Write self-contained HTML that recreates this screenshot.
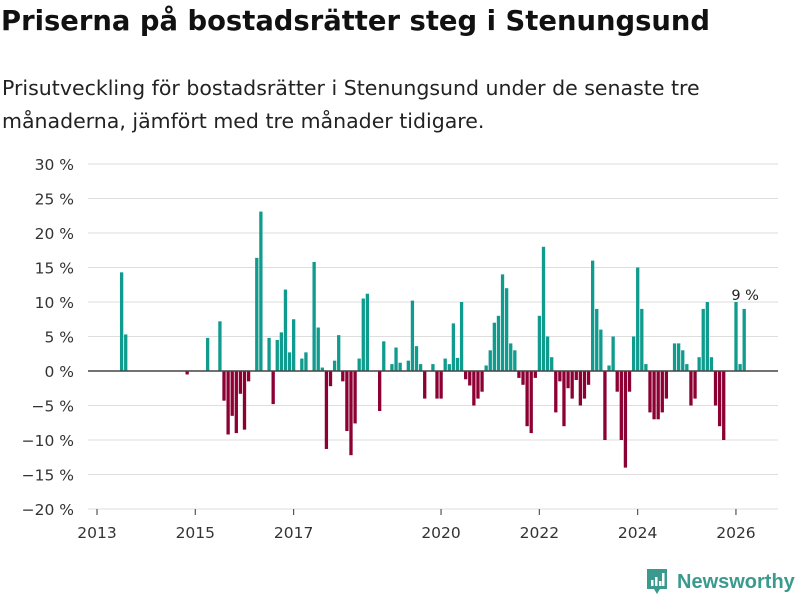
<!DOCTYPE html>
<html><head><meta charset="utf-8">
<style>
body{margin:0;width:800px;height:600px;background:#fff;font-family:"DejaVu Sans","Liberation Sans",sans-serif;overflow:hidden;position:relative}
#title{position:absolute;left:1px;top:6px;font-size:27.4px;font-weight:bold;color:#111;margin:0;white-space:nowrap}
#sub{position:absolute;left:2px;top:72px;font-size:20.5px;line-height:33px;color:#222;margin:0;width:745px}
svg{position:absolute;left:0;top:0}
#logo{position:absolute;left:645px;top:567px;display:flex;align-items:center}
</style></head><body>
<h1 id="title">Priserna på bostadsrätter steg i Stenungsund</h1>
<p id="sub">Prisutveckling för bostadsrätter i Stenungsund under de senaste tre månaderna, jämfört med tre månader tidigare.</p>
<svg id="chart" width="800" height="600"></svg>
<div id="logo">
<svg width="24" height="30" viewBox="0 0 24 30" style="position:static"><path d="M2 2h20v20H15l-3 5-3-5H2z" fill="#3a9a8e"/><rect x="6" y="13" width="2.5" height="6" fill="#fff"/><rect x="10" y="10" width="2.5" height="9" fill="#fff"/><rect x="14" y="14" width="2.5" height="5" fill="#fff"/><rect x="17" y="6" width="2.5" height="13" fill="#fff"/></svg>
<span style="font-family:'Liberation Sans',sans-serif;font-size:20px;color:#3a9a8e;font-weight:bold;margin-left:8px">Newsworthy</span></div>
<script>
const months=[6,7,22,27,30,31,32,33,34,35,36,37,39,40,42,43,44,45,46,47,48,50,51,53,54,55,56,57,58,59,60,61,62,63,64,65,66,69,70,72,73,74,76,77,78,79,80,82,83,84,85,86,87,88,89,90,91,92,93,94,95,96,97,98,99,100,101,102,103,104,105,106,107,108,109,110,111,112,113,114,115,116,117,118,119,120,121,122,123,124,125,126,127,128,129,130,131,132,133,134,135,136,137,138,139,141,142,143,144,145,146,147,148,149,150,151,152,153,156,157,158];
const values=[14.3,5.3,-0.5,4.8,7.2,-4.3,-9.2,-6.5,-9,-3.3,-8.5,-1.5,16.4,23.1,4.8,-4.8,4.5,5.6,11.8,2.7,7.5,1.8,2.7,15.8,6.3,0.5,-11.3,-2.2,1.5,5.2,-1.5,-8.7,-12.2,-7.6,1.8,10.5,11.2,-5.8,4.3,1.0,3.4,1.2,1.5,10.2,3.6,1.0,-4,1,-4,-4,1.8,1.0,6.9,1.9,10,-1.2,-2.1,-5,-4,-3,0.8,3,7,8,14,12,4,3,-1,-2,-8,-9,-1,8,18,5,2,-6,-1.5,-8,-2.5,-4,-1.3,-5,-4,-2,16,9,6,-10,0.8,5,-3,-10,-14,-3,5,15,9,1,-6,-7,-7,-6,-4,4,4,3,1,-5,-4,2,9,10,2,-5,-8,-10,10,1,9];
const yTicks=[30,25,20,15,10,5,0,-5,-10,-15,-20];
const xYears=[2013,2015,2017,2020,2022,2024,2026];
const svg=document.getElementById('chart');
const NS='http://www.w3.org/2000/svg';
const y0=371,pxPer=6.9;
function yS(v){return y0-v*pxPer;}
function xS(m){return 97+m*49.15/12;}
function el(t,a){const e=document.createElementNS(NS,t);for(const k in a)e.setAttribute(k,a[k]);svg.appendChild(e);return e;}
yTicks.forEach(t=>{
 const g=el('line',{x1:88,x2:778,y1:yS(t),y2:yS(t),stroke:'#dedede','stroke-width':1});
 
 
 const tx=el('text',{x:74,y:yS(t)+6,'text-anchor':'end','font-size':15.5,fill:'#333'});
 tx.textContent=(t<0?'\u2212'+Math.abs(t):t)+' %';
 
 
});
xYears.forEach(yr=>{
 const x=xS((yr-2013)*12);
 const tk=el('line',{x1:x,x2:x,y1:509,y2:515,stroke:'#555','stroke-width':1.2});
 
 
 const tx=el('text',{x:x,y:538,'text-anchor':'middle','font-size':15.5,fill:'#333'});
 tx.textContent=yr;
 
 
});
months.forEach((m,i)=>{
 const v=values[i];const x=xS(m)-1.6;
 const r=el('rect',{x:x,width:3.3,y:Math.min(yS(v),y0),height:Math.abs(yS(v)-y0),fill:v>=0?'#0f9b8e':'#8c0034'});
 
 
});
const zl=el('line',{x1:88,x2:778,y1:y0,y2:y0,stroke:'#444','stroke-width':1.5});


const li=months.length-1;
const lab=el('text',{x:xS(months[li])+1,y:yS(values[li])-9,'text-anchor':'middle','font-size':14.5,fill:'#222'});
lab.textContent=Math.round(values[li])+' %';


</script>
</body></html>
